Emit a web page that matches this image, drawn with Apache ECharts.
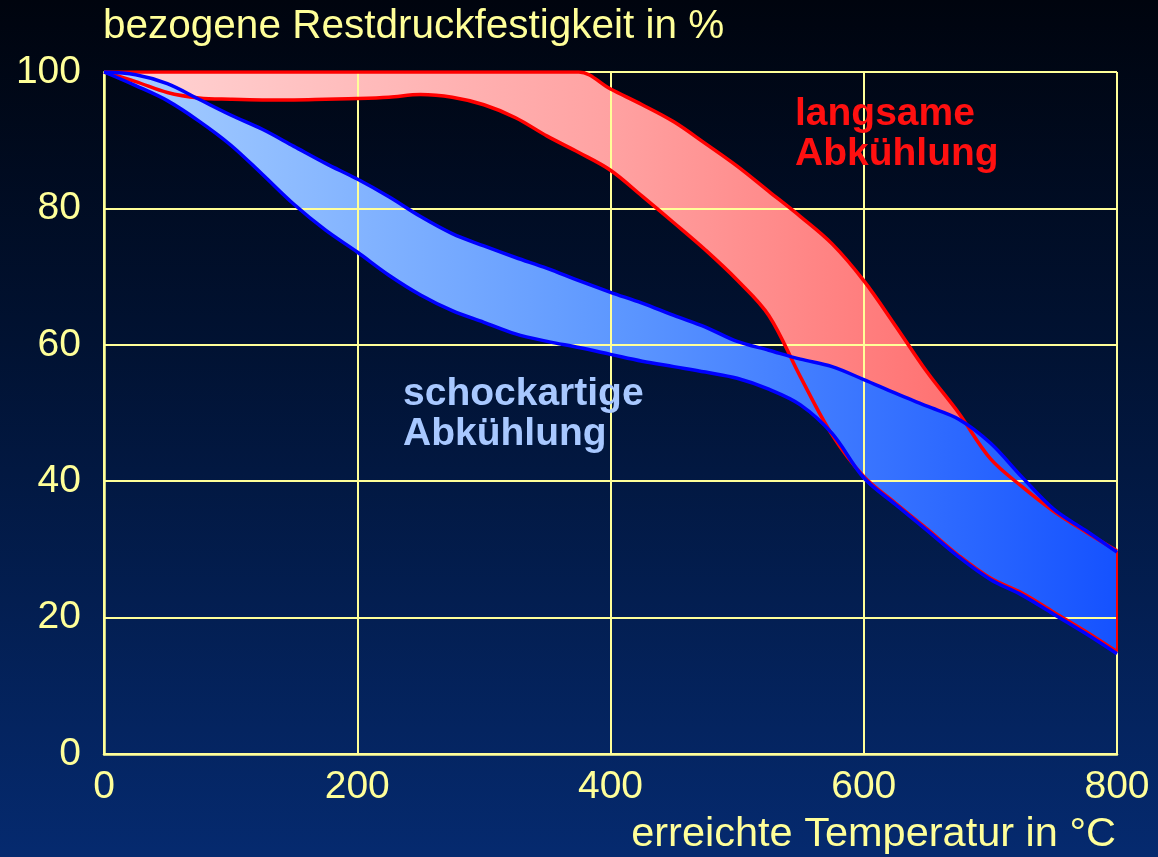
<!DOCTYPE html>
<html>
<head>
<meta charset="utf-8">
<title>Restdruckfestigkeit</title>
<script src="https://cdn.jsdelivr.net/npm/echarts@6/dist/echarts.min.js"></script>
<style>
  html, body { margin: 0; padding: 0; }
  #chart {
    width: 1158px;
    height: 857px;
    background: linear-gradient(to bottom, #00040e 0%, #011232 40%, #052a6f 100%);
  }
</style>
</head>
<body>
<div id="chart"></div>
<script>
// Temperature steps (°C), evenly spaced so they can serve as axis categories
const temps = [0, 25, 50, 75, 100, 125, 150, 175, 200, 225, 250, 275, 300, 325, 350, 375, 400,
               425, 450, 475, 500, 525, 550, 575, 600, 625, 650, 675, 700, 725, 750, 775, 800];

// Residual compressive strength (%) – slow cooling band
const slowUpper = [100, 100, 100, 100, 100, 100, 100, 100, 100, 100, 100, 100, 100, 100, 100, 100, 97.5,
                   95.2, 92.7, 89.5, 86.2, 82.5, 78.8, 74.8, 69.4, 62.8, 56.0, 50.0, 43.3, 39.2, 35.6, 32.6, 29.8];
const slowLower = [100, 98.6, 97.0, 96.2, 96.0, 95.9, 95.9, 96.0, 96.1, 96.3, 96.7, 96.3, 95.2, 93.3, 90.6, 88.2, 85.6,
                   81.8, 77.9, 73.9, 69.5, 64.3, 55.3, 46.8, 40.7, 36.8, 33.0, 29.1, 25.8, 23.6, 20.8, 18.0, 15.0];

// Residual compressive strength (%) – shock cooling band
const shockUpper = [100, 99.6, 98.3, 96.0, 93.7, 91.6, 89.1, 86.6, 84.3, 81.7, 78.8, 76.3, 74.5, 72.8, 71.2, 69.4, 67.7,
                    66.1, 64.3, 62.6, 60.5, 59.2, 57.9, 56.8, 54.9, 52.9, 51.0, 49.1, 45.6, 40.6, 35.9, 32.8, 29.6];
const shockLower = [100, 98.0, 95.8, 92.8, 89.3, 85.0, 80.6, 76.8, 73.6, 70.2, 67.3, 65.0, 63.3, 61.6, 60.5, 59.6, 58.6,
                    57.6, 56.8, 56.0, 55.1, 53.5, 51.2, 47.0, 40.5, 36.6, 32.8, 28.9, 25.6, 23.3, 20.5, 17.7, 14.7];

// Labelled temperature ticks every 200 °C (every 8th step), percent ticks every 20
const xLabelEvery = 8;
const yRange = [0, 100, 20];

const yTitle = 'bezogene Restdruckfestigkeit in %';
const xTitle = 'erreichte Temperatur in °C';
const slowLabel = 'langsame\nAbkühlung';
const shockLabel = 'schockartige\nAbkühlung';

const SMOOTH = 0.35;
const TEXT = '#ffff99';
const FONT = '"Liberation Sans", Arial, sans-serif';

const diffs = (hi, lo) => hi.map((v, i) => +(v - lo[i]).toFixed(3));

// Filled band between two curves: invisible base + stacked difference with area fill
function band(id, lower, upper, fill, z) {
  return [
    { type: 'line', name: id + '-base', stack: id, data: lower, smooth: SMOOTH,
      symbol: 'none', lineStyle: { opacity: 0 }, silent: true, z: z },
    { type: 'line', name: id, stack: id, data: diffs(upper, lower), smooth: SMOOTH,
      symbol: 'none', lineStyle: { opacity: 0 }, areaStyle: { color: fill, opacity: 1 },
      silent: true, z: z }
  ];
}

function outline(vals, color, z) {
  return { type: 'line', data: vals, smooth: SMOOTH, symbol: 'none',
           lineStyle: { color: color, width: 3.5 }, silent: true, z: z };
}

const redFill = new echarts.graphic.LinearGradient(0, 0, 1, 0, [
  { offset: 0, color: '#ffd6d6' },
  { offset: 0.5, color: '#ffa2a2' },
  { offset: 1, color: '#ff5a5a' }
]);
const blueFill = new echarts.graphic.LinearGradient(0, 0, 1, 0, [
  { offset: 0, color: '#a9d0ff' },
  { offset: 0.5, color: '#5e98ff' },
  { offset: 1, color: '#1552ff' }
]);

const chart = echarts.init(document.getElementById('chart'), null, { renderer: 'canvas' });

const lastIdx = temps.length - 1;
const edge = temps.map((t, i) => null);

chart.setOption({
  backgroundColor: 'transparent',
  animation: false,
  grid: { left: 104, right: 41, top: 72, bottom: 103, outerBoundsMode: 'none' },
  xAxis: {
    type: 'category',
    data: temps.map(String),
    boundaryGap: false,
    z: 3,
    axisLine: { show: true, lineStyle: { color: TEXT, width: 2.5 } },
    axisTick: { show: false },
    splitLine: { show: true, interval: xLabelEvery - 1, lineStyle: { color: TEXT, width: 2 } },
    axisLabel: { interval: xLabelEvery - 1, color: TEXT, fontSize: 39, fontFamily: FONT, margin: 14 }
  },
  yAxis: {
    type: 'value',
    min: yRange[0], max: yRange[1], interval: yRange[2],
    z: 3,
    axisLine: { show: true, lineStyle: { color: TEXT, width: 2.5 } },
    axisTick: { show: false },
    splitLine: { show: true, lineStyle: { color: TEXT, width: 2 } },
    axisLabel: { color: TEXT, fontSize: 39, fontFamily: FONT, margin: 23 }
  },
  series: [
    ...band('slow', slowLower, slowUpper, redFill, 1),
    ...band('shock', shockLower, shockUpper, blueFill, 2),
    outline(slowUpper, '#ff0000', 4),
    outline(slowLower, '#ff0000', 4),
    { type: 'line', data: [[lastIdx, slowUpper[lastIdx]], [lastIdx, slowLower[lastIdx]]],
      symbol: 'none', lineStyle: { color: '#ff0000', width: 2 }, silent: true, z: 4 },
    outline(shockUpper, '#0000ff', 5),
    outline(shockLower, '#0000ff', 5)
  ],
  graphic: [
    { type: 'text', x: 103, y: 27, z: 10,
      style: { text: yTitle, fill: TEXT, font: '40.5px ' + FONT, align: 'left', verticalAlign: 'middle' } },
    { type: 'text', x: 1116, y: 835, z: 10,
      style: { text: xTitle, fill: TEXT, font: '41.5px ' + FONT, align: 'right', verticalAlign: 'middle' } },
    { type: 'text', x: 795, y: 94, z: 10,
      style: { text: slowLabel, fill: '#ff1010', font: 'bold 39px ' + FONT, lineHeight: 40,
               align: 'left', verticalAlign: 'top' } },
    { type: 'text', x: 403, y: 374, z: 10,
      style: { text: shockLabel, fill: '#a8c8ff', font: 'bold 39px ' + FONT, lineHeight: 40,
               align: 'left', verticalAlign: 'top' } }
  ]
});
</script>
</body>
</html>
